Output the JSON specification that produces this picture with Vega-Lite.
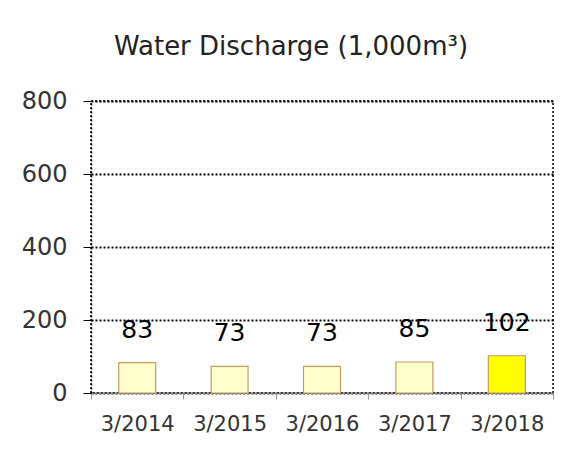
{
  "$schema": "https://vega.github.io/schema/vega-lite/v6.json",
  "autosize": "none",
  "width": 462,
  "height": 292,
  "padding": {"left": 91, "top": 101, "right": 29, "bottom": 60},
  "background": "white",
  "title": {
    "text": "Water Discharge (1,000m³)",
    "font": "DejaVu Sans",
    "fontSize": 26,
    "fontWeight": "normal",
    "color": "#222222",
    "anchor": "middle",
    "baseline": "alphabetic",
    "dx": -31,
    "offset": 8
  },
  "data": {
    "values": [
      {"period": "3/2014", "value": 83, "latest": "no"},
      {"period": "3/2015", "value": 73, "latest": "no"},
      {"period": "3/2016", "value": 73, "latest": "no"},
      {"period": "3/2017", "value": 85, "latest": "no"},
      {"period": "3/2018", "value": 102, "latest": "yes"}
    ]
  },
  "config": {
    "view": {"stroke": "black", "strokeDash": [2, 2], "strokeWidth": 1.5},
    "font": "DejaVu Sans"
  },
  "encoding": {
    "x": {
      "field": "period",
      "type": "nominal",
      "sort": null,
      "scale": {"paddingInner": 0, "paddingOuter": 0},
      "axis": {
        "title": null,
        "labelAngle": 0,
        "labelFont": "DejaVu Sans",
        "labelFontSize": 21,
        "labelColor": "#333333",
        "labelPadding": 14,
        "tickBand": "extent",
        "tickColor": "#999999",
        "tickSize": 6,
        "domainColor": "#999999",
        "domainDash": [2, 2],
        "domainWidth": 1.5,
        "grid": false
      }
    },
    "y": {
      "field": "value",
      "type": "quantitative",
      "scale": {"domain": [0, 800]},
      "axis": {
        "title": null,
        "values": [0, 200, 400, 600, 800],
        "labelFont": "DejaVu Sans",
        "labelFontSize": 24,
        "labelColor": "#333333",
        "labelPadding": 16,
        "tickColor": "black",
        "tickSize": 8,
        "domainColor": "black",
        "domainDash": [2, 2],
        "domainWidth": 1.5,
        "grid": true,
        "gridColor": "black",
        "gridDash": [2, 2],
        "gridWidth": 1.8,
        "gridOpacity": 1
      }
    }
  },
  "layer": [
    {
      "mark": {"type": "bar", "width": {"band": 0.4}, "stroke": "#C49A64", "strokeWidth": 1.2},
      "encoding": {
        "fill": {
          "field": "latest",
          "type": "nominal",
          "scale": {"domain": ["no", "yes"], "range": ["#FFFFCC", "#FFFF00"]},
          "legend": null
        }
      }
    },
    {
      "mark": {"type": "text", "dy": -33, "fontSize": 25, "font": "DejaVu Sans", "color": "black", "baseline": "middle"},
      "encoding": {"text": {"field": "value", "type": "quantitative"}}
    }
  ]
}
